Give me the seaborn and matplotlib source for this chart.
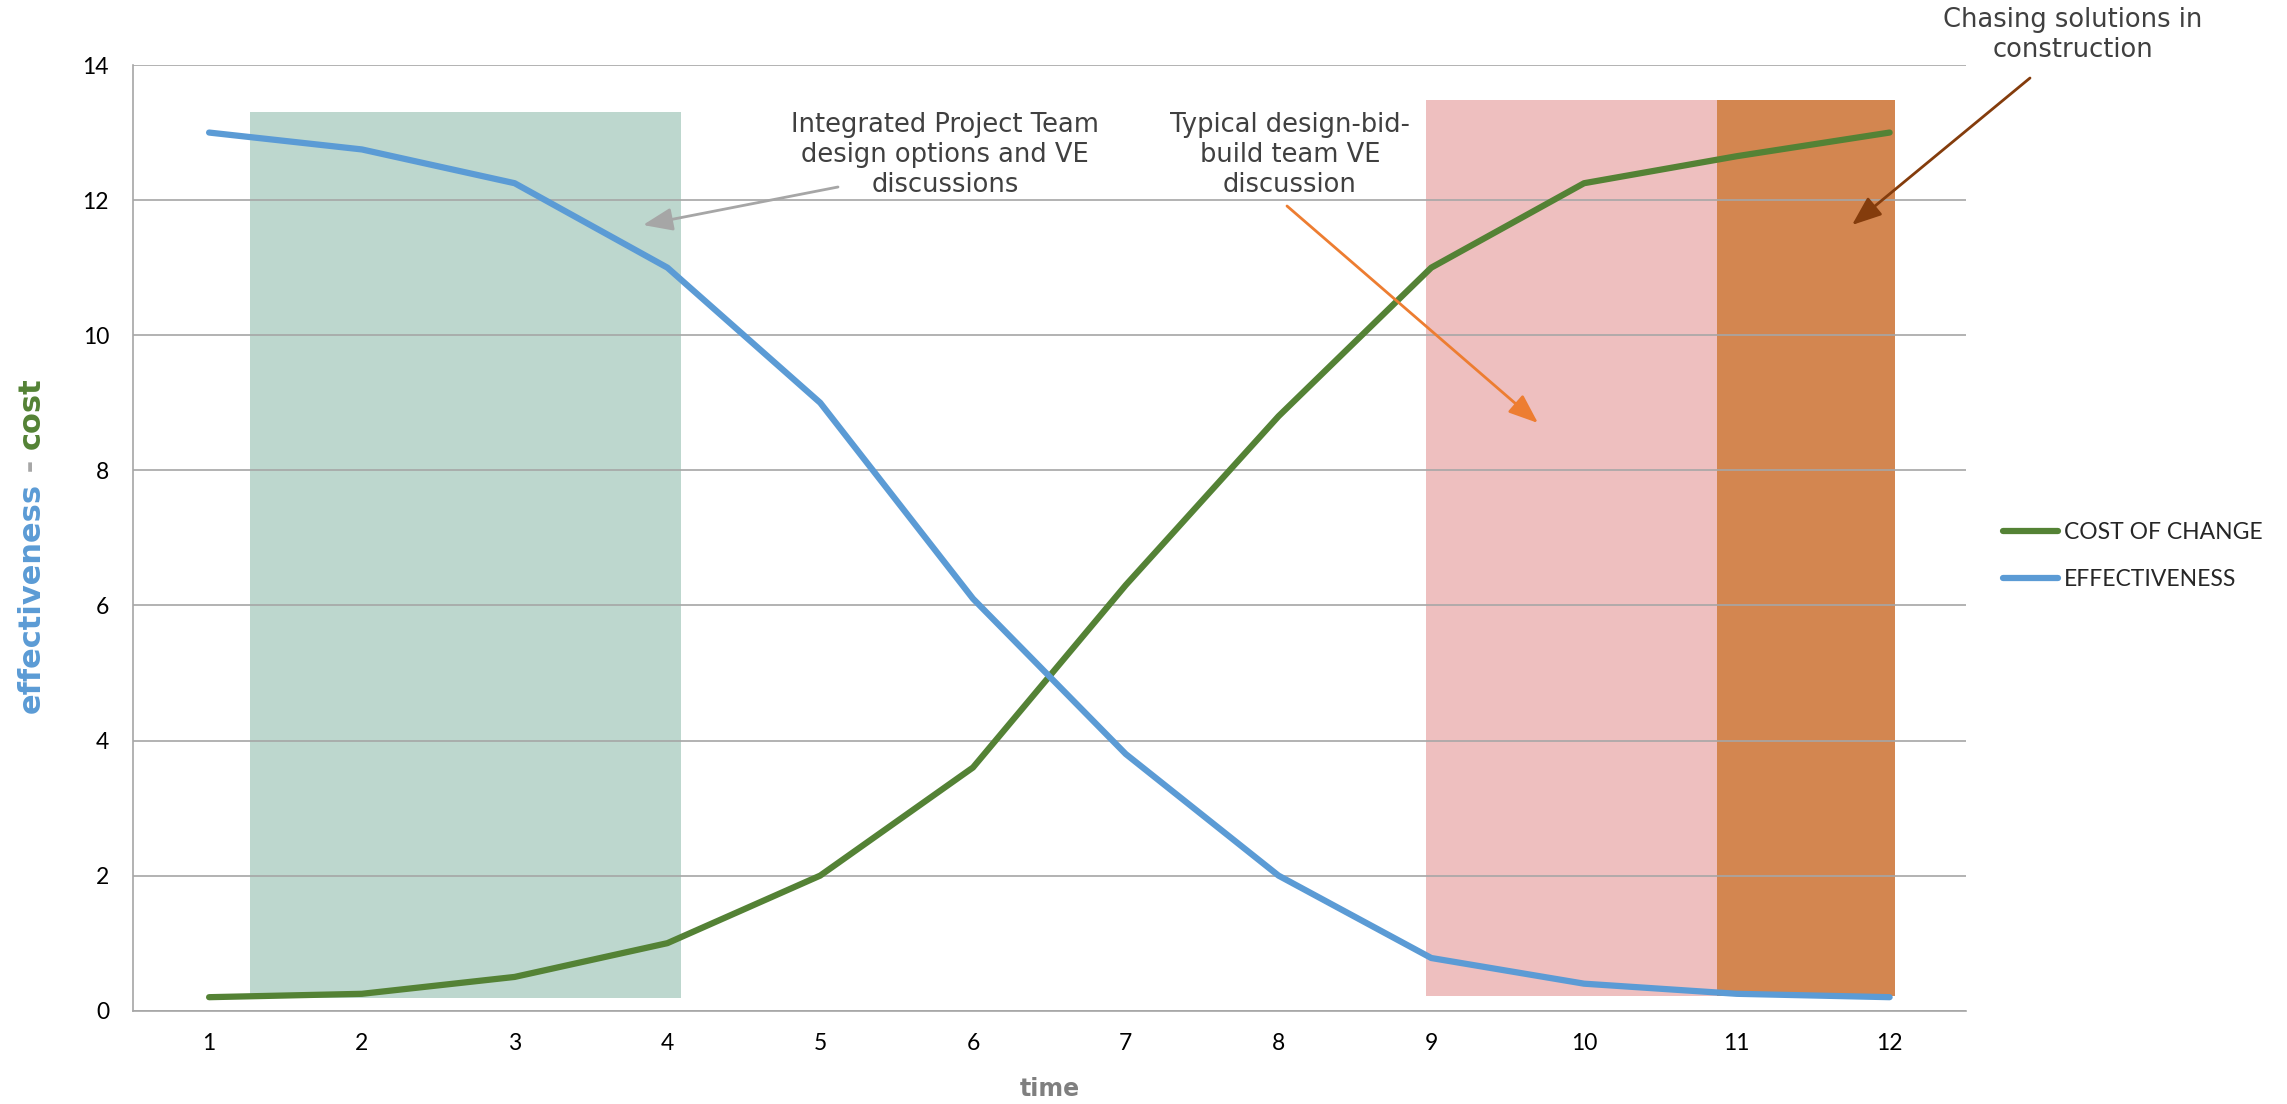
import numpy as np
import pandas as pd
import matplotlib
matplotlib.use("Agg")
import matplotlib.pyplot as plt
from matplotlib.patches import Rectangle
from matplotlib.lines import Line2D
from matplotlib import font_manager
import seaborn as sns

# ---------------- data ----------------
time = [1, 2, 3, 4, 5, 6, 7, 8, 9, 10, 11, 12]
cost_of_change = [0.2, 0.25, 0.5, 1.0, 2.0, 3.6, 6.3, 8.8, 11.0, 12.25, 12.65, 13.0]
effectiveness = [13.0, 12.75, 12.25, 11.0, 9.0, 6.1, 3.8, 2.0, 0.78, 0.4, 0.25, 0.2]
series_names = ["COST OF CHANGE", "EFFECTIVENESS"]
y_ticks = [0, 2, 4, 6, 8, 10, 12, 14]

# shaded phases: (x start, x end, y bottom, y top) in data units
ipd_band = [1.27, 4.09, 0.19, 13.31]
dbb_band = [8.965, 10.87, 0.22, 13.48]
construction_band = [10.87, 12.035, 0.22, 13.48]

ann_ipd = "Integrated Project Team\ndesign options and VE\ndiscussions"
ann_dbb = "Typical design-bid-\nbuild team VE\ndiscussion"
ann_con = "Chasing solutions in\nconstruction"

# ---------------- style ----------------
sns.set_style("white")
avail = {f.name for f in font_manager.fontManager.ttflist}
tick_font = "Lato" if "Lato" in avail else "DejaVu Sans"
plt.rcParams["font.family"] = [tick_font, "DejaVu Sans"]

GREEN = "#548235"
BLUE = "#5B9BD5"
GRID = "#A6A6A6"
W, H = 2287, 1104

fig, ax = plt.subplots(figsize=(W / 100, H / 100), dpi=100)
fig.subplots_adjust(left=132.7 / W, right=1966 / W, bottom=1 - 1010.7 / H, top=1 - 65 / H)

df = pd.DataFrame({
    "time": time + time,
    "value": cost_of_change + effectiveness,
    "series": [series_names[0]] * len(time) + [series_names[1]] * len(time),
})

for band, col in [(ipd_band, "#BDD7CE"), (dbb_band, "#EEBFBF"), (construction_band, "#D38650")]:
    ax.add_patch(Rectangle((band[0], band[2]), band[1] - band[0], band[3] - band[2],
                           facecolor=col, edgecolor="none", zorder=0.2))

sns.lineplot(data=df, x="time", y="value", hue="series", hue_order=series_names,
             palette=[GREEN, BLUE], linewidth=4.5, legend=False, ax=ax,
             solid_capstyle="round", solid_joinstyle="round", zorder=3)

ax.set_xlim(0.5, 12.5)
ax.set_ylim(0, 14)
ax.set_xticks(time)
ax.set_xticks(np.arange(0.5, 13.0, 1.0), minor=True)
ax.set_yticks(y_ticks)
ax.set_axisbelow(True)
ax.yaxis.grid(True, color=GRID, linewidth=1.2)
ax.xaxis.grid(False)
for s in ["top", "right"]:
    ax.spines[s].set_visible(False)
for s in ["left", "bottom"]:
    ax.spines[s].set_color(GRID)
    ax.spines[s].set_linewidth(1.2)

ax.tick_params(axis="x", which="major", length=0, pad=16, labelsize=16.5, labelcolor="black")
ax.tick_params(axis="x", which="minor", length=6, width=1.1, color=GRID, direction="out")
ax.tick_params(axis="y", which="major", length=6, width=1.1, color=GRID, direction="out",
               pad=11, labelsize=16.5, labelcolor="black")

ax.set_ylabel("")
ax.set_xlabel("time", fontsize=17, fontweight="bold", color="#7F7F7F", family="DejaVu Sans")
ax.xaxis.set_label_coords(0.5, -(1089 - 1010.7) / (1010.7 - 65))
ax.xaxis.label.set_va("center")

# legend
handles = [Line2D([0], [0], color=GREEN, lw=4.5, solid_capstyle="round"),
           Line2D([0], [0], color=BLUE, lw=4.5, solid_capstyle="round")]
ax.legend(handles, series_names, loc="center left", bbox_to_anchor=(2003 / W, 1 - 556 / H),
          bbox_transform=fig.transFigure, frameon=False, fontsize=16.5, handlelength=2.4,
          handletextpad=0.25, labelspacing=1.15, borderpad=0, borderaxespad=0)

# annotations
ann_kw = dict(ha="center", va="center", fontsize=18.5, color="#404040", family="DejaVu Sans",
              linespacing=1.2, multialignment="center")
fig.text(945 / W, 1 - 155 / H, ann_ipd, **ann_kw)
fig.text(1290 / W, 1 - 155 / H, ann_dbb, **ann_kw)
fig.text(2073 / W, 1 - 35 / H, ann_con, **ann_kw)


def arrow(tail, head, color):
    ax.annotate("", xy=(head[0] / W, 1 - head[1] / H), xycoords="figure fraction",
                xytext=(tail[0] / W, 1 - tail[1] / H), textcoords="figure fraction",
                arrowprops=dict(arrowstyle="-|>,head_length=0.9,head_width=0.35", color=color,
                                lw=2, shrinkA=0, shrinkB=0, mutation_scale=20))


arrow((838, 187), (643, 225), "#A6A6A6")
arrow((1287, 206), (1538, 423), "#ED7D31")
arrow((2030, 78), (1852, 225), "#843C0C")

# multi-coloured y label
fig.canvas.draw()
renderer = fig.canvas.get_renderer()
ylab_kw = dict(rotation=90, fontsize=22, fontweight="bold", family="DejaVu Sans",
               ha="center", va="bottom")
y0 = 1 - 713 / H
x0 = 31 / W
for piece, col in [("effectiveness", BLUE), (" - ", "#A6A6A6"), ("cost", GREEN)]:
    t = fig.text(x0, y0, piece, color=col, **ylab_kw)
    bb = t.get_window_extent(renderer)
    y0 = (bb.y1) / H

fig.savefig("out.png", dpi=100)
